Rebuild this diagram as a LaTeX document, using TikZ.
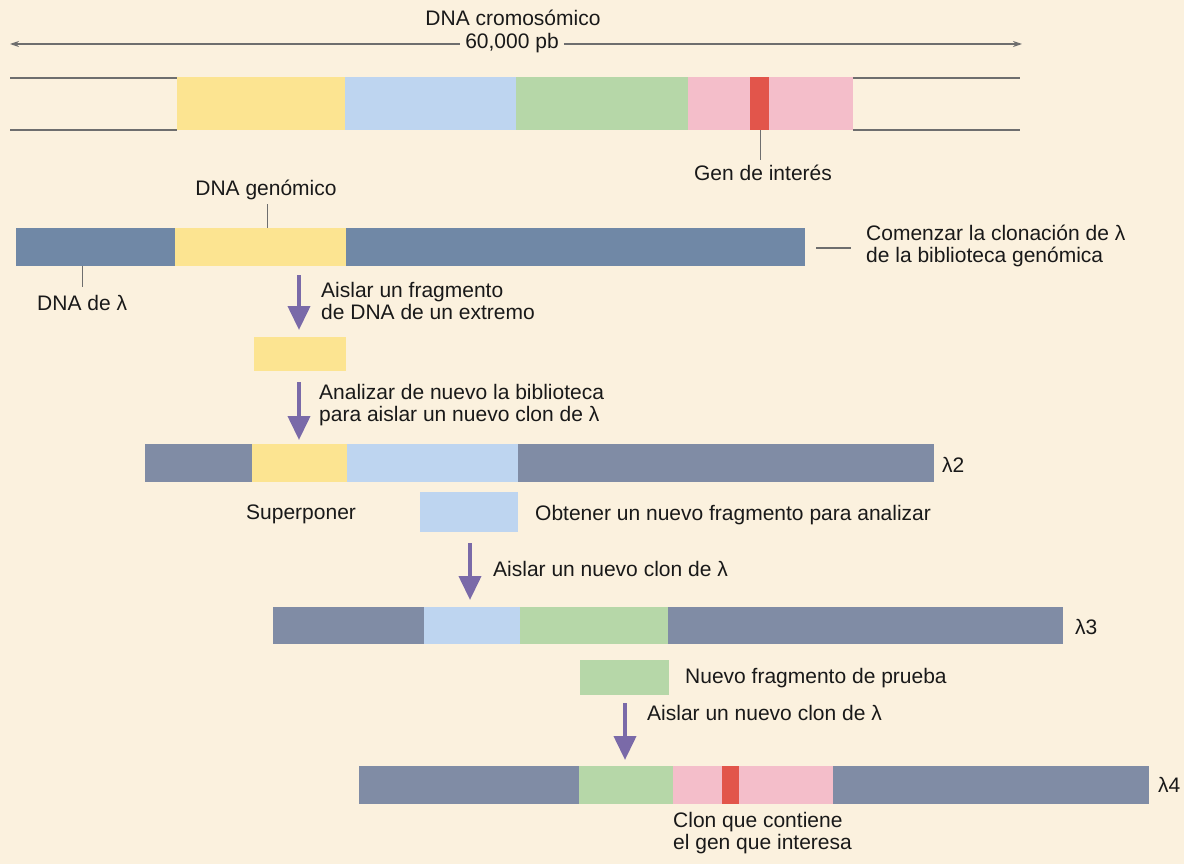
\documentclass[tikz,border=0pt]{standalone}
\usepackage{fontspec}
\setmainfont{Liberation Sans}
\usetikzlibrary{fit,arrows.meta}
\definecolor{bg}{RGB}{251,241,222}
\definecolor{lam}{RGB}{128,140,165}
\definecolor{lamb}{RGB}{112,136,166}
\definecolor{yel}{RGB}{252,228,145}
\definecolor{blu}{RGB}{190,213,240}
\definecolor{grn}{RGB}{182,215,168}
\definecolor{pnk}{RGB}{244,190,202}
\definecolor{red1}{RGB}{226,85,75}
\definecolor{pur}{RGB}{122,106,168}
\definecolor{txt}{RGB}{25,25,25}
\definecolor{lin}{RGB}{110,110,110}
\newcommand\segm[6]{\node[segbox, fill=#2, fit={(#3,#5) (#4,#6)}] (#1) {};}
\tikzset{
  segbox/.style={inner sep=0pt, outer sep=0pt, draw=none, rectangle},
  lbl/.style={font=\fontsize{21}{22}\selectfont, text=txt, inner sep=0pt, align=left},
  steparrow/.style={draw=pur, line width=4pt, -{Triangle[length=24pt,width=22pt]}},
  thin/.style={draw=lin, line width=1.2pt},
}
\begin{document}
\begin{tikzpicture}[x=1pt,y=-1pt]
\fill[bg] (0,0) rectangle (1184,864);
\useasboundingbox (0,0) rectangle (1184,864);

% top scale arrow
\node[lbl, anchor=center] (tit) at (513,18) {DNA cromosómico};
\node[lbl, anchor=center, inner xsep=5pt] (pb) at (512,43) {60,000 pb};
\coordinate (tl) at (10,44);
\coordinate (tr) at (1022,44);
\draw[thin, {Stealth[length=9pt,width=6pt]}-] (tl) -- (pb.west |- tl);
\draw[thin, -{Stealth[length=9pt,width=6pt]}] (pb.east |- tr) -- (tr);

% chromosome
\segm{cy}{yel}{177}{345}{77}{130}
\segm{cb}{blu}{345}{516}{77}{130}
\segm{cg}{grn}{516}{688}{77}{130}
\segm{cp}{pnk}{688}{853}{77}{130}
\segm{cr}{red1}{750}{769}{77}{130}
\coordinate (cl1) at (10,78);
\coordinate (cl2) at (10,130);
\coordinate (cr1) at (1020,78);
\coordinate (cr2) at (1020,130);
\draw[thin] (cl1) -- (cl1 -| cy.west);
\draw[thin] (cl2) -- (cl2 -| cy.west);
\draw[thin] (cr1 -| cp.east) -- (cr1);
\draw[thin] (cr2 -| cp.east) -- (cr2);
\node[lbl, anchor=center] (gen) at (763,173) {Gen de interés};
\coordinate (gtk) at (760,160);
\draw[thin, line width=1pt] (gtk |- cr.south) -- (gtk);

% row 1
\segm{r1a}{lamb}{16}{175}{228}{266}
\segm{r1b}{yel}{175}{346}{228}{266}
\segm{r1c}{lamb}{346}{805}{228}{266}
\node[lbl, anchor=center] (dg) at (266,190) {DNA genómico};
\coordinate (dgt) at (267,204);
\draw[thin, line width=1pt] (dgt) -- (dgt |- r1b.north);
\node[lbl, anchor=west] (dl) at (37,303) {DNA de λ};
\coordinate (dlt) at (82,287);
\draw[thin, line width=1pt] (dlt |- r1a.south) -- (dlt);
\node[lbl, anchor=west] (com) at (866,246) {Comenzar la clonación de λ\\de la biblioteca genómica};
\coordinate (cm1) at (816,248);
\coordinate (cm2) at (851,248);
\draw[thin] (cm1) -- (cm2);

% arrow 1
\coordinate (a1s) at (299,275);
\coordinate (a1e) at (299,330);
\draw[steparrow] (a1s) -- (a1e);
\node[lbl, anchor=west] (t1) at (321,301) {Aislar un fragmento\\de DNA de un extremo};
\segm{f1}{yel}{254}{346}{337}{371}

% arrow 2
\coordinate (a2s) at (299,382);
\coordinate (a2e) at (299,440);
\draw[steparrow] (a2s) -- (a2e);
\node[lbl, anchor=west] (t2) at (319,405) {Analizar de nuevo la biblioteca\\para aislar un nuevo clon de λ};

% row lambda 2
\segm{r2a}{lam}{145}{252}{444}{482}
\segm{r2b}{yel}{252}{347}{444}{482}
\segm{r2c}{blu}{347}{518}{444}{482}
\segm{r2d}{lam}{518}{934}{444}{482}
\node[lbl, anchor=west] (l2) at (942,465) {λ2};
\node[lbl, anchor=west] (sup) at (246,514) {Superponer};
\segm{f2}{blu}{420}{518}{492}{532}
\node[lbl, anchor=west] (obt) at (535,515) {Obtener un nuevo fragmento para analizar};

% arrow 3
\coordinate (a3s) at (470,543);
\coordinate (a3e) at (470,600);
\draw[steparrow] (a3s) -- (a3e);
\node[lbl, anchor=west] (t3) at (493,569) {Aislar un nuevo clon de λ};

% row lambda 3
\segm{r3a}{lam}{273}{424}{607}{644}
\segm{r3b}{blu}{424}{520}{607}{644}
\segm{r3c}{grn}{520}{668}{607}{644}
\segm{r3d}{lam}{668}{1063}{607}{644}
\node[lbl, anchor=west] (l3) at (1075,627) {λ3};
\segm{f3}{grn}{580}{669}{660}{695}
\node[lbl, anchor=west] (nue) at (685,678) {Nuevo fragmento de prueba};

% arrow 4
\coordinate (a4s) at (625,703);
\coordinate (a4e) at (625,760);
\draw[steparrow] (a4s) -- (a4e);
\node[lbl, anchor=west] (t4) at (647,713) {Aislar un nuevo clon de λ};

% row lambda 4
\segm{r4a}{lam}{359}{579}{766}{804}
\segm{r4b}{grn}{579}{673}{766}{804}
\segm{r4c}{pnk}{673}{833}{766}{804}
\segm{r4r}{red1}{722}{739}{766}{804}
\segm{r4d}{lam}{833}{1149}{766}{804}
\node[lbl, anchor=west] (l4) at (1158,785) {λ4};
\node[lbl, anchor=west] (clo) at (673,833) {Clon que contiene\\el gen que interesa};
\end{tikzpicture}
\end{document}
